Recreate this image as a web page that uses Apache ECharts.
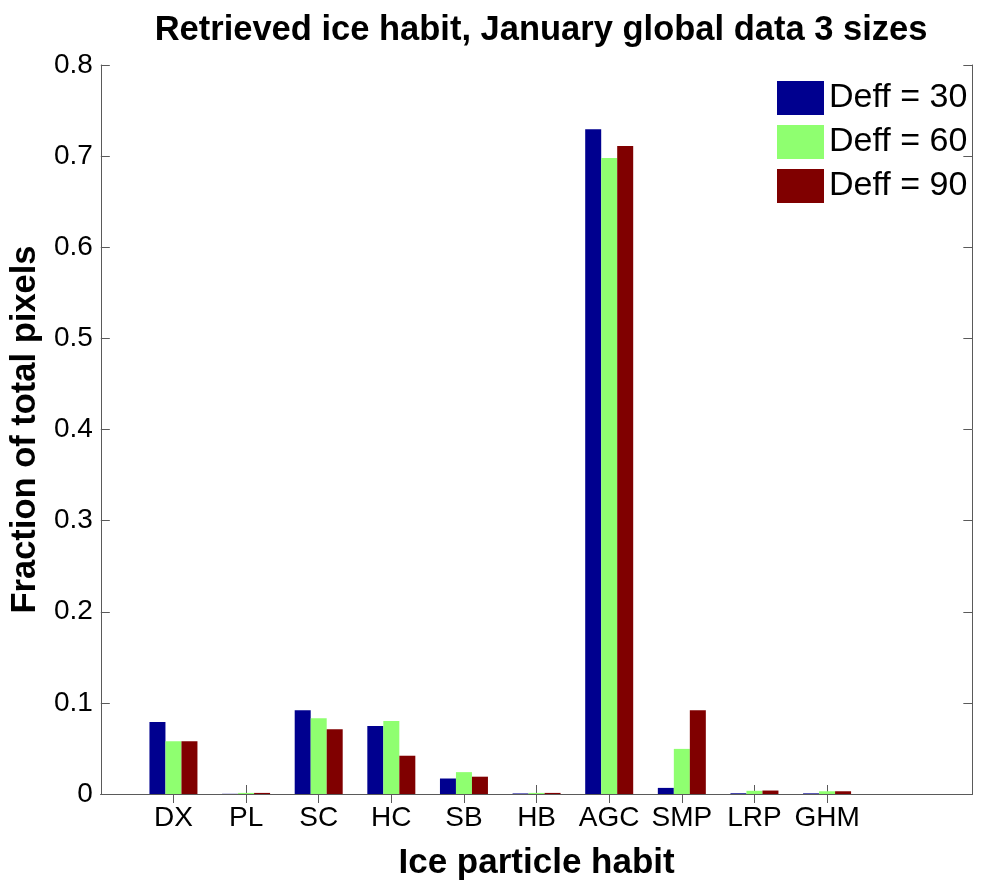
<!DOCTYPE html>
<html>
<head>
<meta charset="utf-8">
<title>Retrieved ice habit</title>
<script src="https://cdn.jsdelivr.net/npm/echarts@6/dist/echarts.min.js"></script>
<style>
  html, body { margin: 0; padding: 0; background: #fff; }
  #chart { width: 987px; height: 886px; }
</style>
</head>
<body>
<div id="chart"></div>
<script>
// Ice particle habit categories
const habits = ['DX', 'PL', 'SC', 'HC', 'SB', 'HB', 'AGC', 'SMP', 'LRP', 'GHM'];

// Fraction of total pixels for each effective diameter
const deff30 = [0.079, 0.0002, 0.092, 0.0745, 0.017, 0.0006, 0.7295, 0.0067, 0.0008, 0.0007];
const deff60 = [0.058, 0.0012, 0.083, 0.080, 0.024, 0.0012, 0.698, 0.0495, 0.0035, 0.003];
const deff90 = [0.058, 0.0012, 0.071, 0.042, 0.019, 0.0012, 0.711, 0.092, 0.0038, 0.003];

const seriesNames = ['Deff = 30', 'Deff = 60', 'Deff = 90'];
const yTicks = [0, 0.1, 0.2, 0.3, 0.4, 0.5, 0.6, 0.7, 0.8];

// The axis runs from 0 to 12 with habits at 1..10, so pad the category list
const axisCats = [' '].concat(habits, ['  ', '   ']);
const pad = arr => [null].concat(arr, [null, null]);

const FONT = 'Liberation Sans, Arial, Helvetica, sans-serif';
const colors = ['#00008F', '#8FFF70', '#800000'];
const axisGray = '#5a5a5a';

const tickShown = (idx) => idx >= 1 && idx <= habits.length;

const chart = echarts.init(document.getElementById('chart'), null, { renderer: 'canvas' });

const barSeries = [deff30, deff60, deff90].map((vals, i) => ({
  name: seriesNames[i],
  type: 'bar',
  data: pad(vals),
  barWidth: 16,
  barGap: '0%',
  itemStyle: { color: colors[i] },
  emphasis: { disabled: true },
  z: 2
}));

chart.setOption({
  animation: false,
  backgroundColor: '#fff',
  textStyle: { fontFamily: FONT },
  title: {
    text: 'Retrieved ice habit, January global data 3 sizes',
    left: 541,
    textAlign: 'center',
    top: 13,
    padding: 0,
    textStyle: { fontFamily: FONT, fontWeight: 'bold', fontSize: 34.5, color: '#000' }
  },
  legend: {
    orient: 'vertical',
    left: 777,
    top: 81,
    padding: 0,
    icon: 'rect',
    itemWidth: 47,
    itemHeight: 34,
    itemGap: 10,
    selectedMode: false,
    textStyle: { fontFamily: FONT, fontSize: 34, color: '#000' },
    data: seriesNames
  },
  grid: { left: 100, right: 4, top: 65, bottom: 86, containLabel: false },
  xAxis: [
    {
      type: 'category',
      data: axisCats,
      boundaryGap: false,
      position: 'bottom',
      name: 'Ice particle habit',
      nameLocation: 'middle',
      nameGap: 52,
      nameTextStyle: { fontFamily: FONT, fontWeight: 'bold', fontSize: 35, color: '#000' },
      axisLine: { lineStyle: { color: axisGray, width: 1 } },
      axisTick: { inside: true, length: 9, interval: tickShown, lineStyle: { color: axisGray } },
      axisLabel: { interval: 0, margin: 10, fontSize: 28, color: '#000', fontFamily: FONT },
      splitLine: { show: false }
    },
    {
      type: 'category',
      data: axisCats,
      boundaryGap: false,
      position: 'top',
      axisLine: { lineStyle: { color: axisGray, width: 1 } },
      axisTick: { inside: true, length: 9, interval: tickShown, lineStyle: { color: axisGray } },
      axisLabel: { show: false },
      splitLine: { show: false }
    }
  ],
  yAxis: [
    {
      type: 'value',
      min: yTicks[0],
      max: yTicks[yTicks.length - 1],
      interval: 0.1,
      name: 'Fraction of total pixels',
      nameLocation: 'middle',
      nameGap: 55,
      nameTextStyle: { fontFamily: FONT, fontWeight: 'bold', fontSize: 34.5, color: '#000' },
      axisLine: { show: true, lineStyle: { color: axisGray, width: 1 } },
      axisTick: { show: true, inside: true, length: 9, lineStyle: { color: axisGray } },
      axisLabel: {
        margin: 8, fontSize: 28, color: '#000', fontFamily: FONT,
        formatter: v => String(Math.round(v * 10) / 10)
      },
      splitLine: { show: false }
    },
    {
      type: 'value',
      min: yTicks[0],
      max: yTicks[yTicks.length - 1],
      interval: 0.1,
      position: 'right',
      axisLine: { show: true, lineStyle: { color: axisGray, width: 1 } },
      axisTick: { show: true, inside: true, length: 9, lineStyle: { color: axisGray } },
      axisLabel: { show: false },
      splitLine: { show: false }
    }
  ],
  series: barSeries
});
</script>
</body>
</html>
